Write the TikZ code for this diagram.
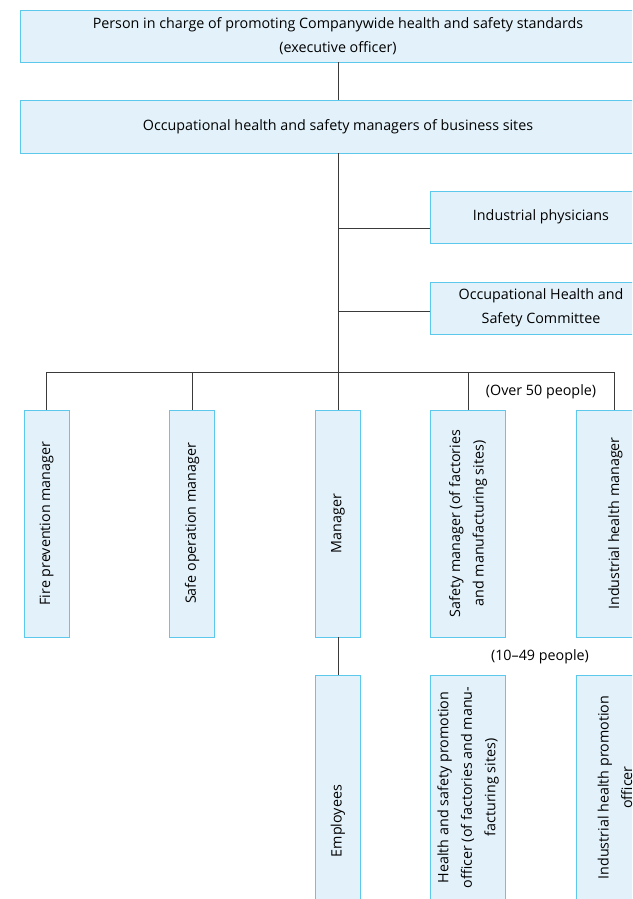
\documentclass[tikz,border=0pt]{standalone}
\usepackage{fontspec}
\setmainfont{Open Sans}
\definecolor{boxfill}{HTML}{E3F2FA}
\definecolor{boxline}{HTML}{5CC8EC}
\definecolor{conn}{HTML}{3A3A3A}
\begin{document}
\begin{tikzpicture}[x=1pt,y=-1pt,
  box/.style={draw=boxline,fill=boxfill,line width=0.9pt,inner sep=0pt,align=center,
    font=\fontsize{14.3}{23.5}\selectfont},
  vbox/.style={box,rotate=90},
  lbl/.style={inner sep=0pt,font=\fontsize{14.3}{23.5}\selectfont},
  conn/.style={draw=conn,line width=0.9pt}]
\useasboundingbox (0,0) rectangle (632,899);
\clip (0,0) rectangle (632,899);
% top boxes
\node[box,minimum width=636pt,minimum height=52pt] (exec) at (338,36)
  {Person in charge of promoting Companywide health and safety standards\\(executive officer)};
\node[box,minimum width=636pt,minimum height=53pt] (ohs) at (338,126.5)
  {Occupational health and safety managers of business sites};
\node[box,minimum width=222pt,minimum height=52pt] (phys) at (541,217)
  {Industrial physicians};
\node[box,minimum width=222pt,minimum height=52pt] (comm) at (541,308)
  {Occupational Health and\\Safety Committee};
% vertical boxes
\node[vbox,minimum width=227pt,minimum height=45pt] (fire) at (46.5,523.5)
  {Fire prevention manager};
\node[vbox,minimum width=227pt,minimum height=45pt] (safe) at (192,523.5)
  {Safe operation manager};
\node[vbox,minimum width=227pt,minimum height=45pt] (mgr) at (338,523.5)
  {Manager};
\node[vbox,minimum width=227pt,minimum height=75pt] (smgr) at (468,523.5)
  {Safety manager (of factories\\and manufacturing sites)};
\node[vbox,minimum width=227pt,minimum height=78pt] (ihm) at (615.5,523.5)
  {Industrial health manager};
\node[vbox,minimum width=292pt,minimum height=45pt] (emp) at (338,821)
  {Employees};
\node[vbox,minimum width=225pt,minimum height=75pt] (hsp) at (468,787.5)
  {Health and safety promotion\\officer (of factories and manu-\\facturing sites)};
\node[vbox,minimum width=225pt,minimum height=78pt] (ihp) at (615,787.5)
  {Industrial health promotion\\officer};
% labels
\node[lbl] (over) at (541,392) {(Over 50 people)};
\node[lbl] (ten) at (540,657) {(10--49 people)};
% connectors
\coordinate (bus) at (338,372.5);
\coordinate (j1) at (338,228);
\coordinate (j2) at (338,311);
\coordinate (d5) at (614,372.5);
\draw[conn] (exec.south) -- (ohs.north);
\draw[conn] (ohs.south) -- (bus);
\draw[conn] (j1) -- (j1 -| phys.west);
\draw[conn] (j2) -- (j2 -| comm.west);
\draw[conn] (fire.east) -- (fire.east |- bus) -- (d5) -- (d5 |- ihm.east);
\draw[conn] (safe.east) -- (safe.east |- bus);
\draw[conn] (bus) -- (mgr.east);
\draw[conn] (smgr.east) -- (smgr.east |- bus);
\draw[conn] (mgr.west) -- (emp.east);
\end{tikzpicture}
\end{document}
